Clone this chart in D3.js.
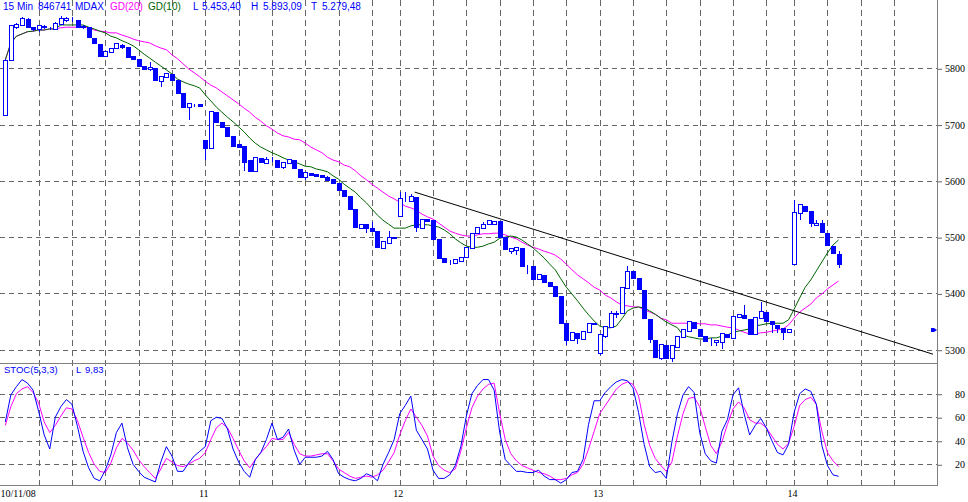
<!DOCTYPE html>
<html><head><meta charset="utf-8">
<script src="https://cdn.jsdelivr.net/npm/d3@7"></script>
<style>body{margin:0;background:#fff}svg{display:block}</style>
</head><body>
<script>
// ---------- DATA ----------
const openP = [
5717,5815,5873,5877,5888,5873,5870,5873,5872,5870,
5879,5886,5888,5886,5875,5873,5854,5843,5822,5829,
5836,5841,5838,5822,5817,5804,5799,5801,5777,5785,
5790,5779,5756,5731,5735,5737,5673,5658,5722,5705,
5696,5680,5666,5662,5637,5618,5641,5632,5637,5637,
5625,5632,5637,5621,5607,5614,5612,5610,5607,5603,
5596,5584,5573,5550,5516,5523,5516,5511,5481,5490,
5500,5538,5566,5564,5571,5516,5532,5530,5497,5463,
5456,5454,5458,5465,5481,5507,5516,5523,5523,5529,
5500,5475,5477,5481,5449,5449,5426,5433,5420,5413,
5395,5347,5317,5330,5319,5331,5347,5294,5324,5340,
5365,5365,5410,5440,5427,5406,5355,5317,5285,5308,
5285,5305,5323,5333,5349,5337,5324,5315,5314,5314,
5328,5321,5358,5362,5355,5328,5356,5367,5351,5344,
5339,5331,5452,5543,5555,5546,5522,5525,5507,5484,
5470];
const highP = [
5817,5877,5881,5891,5889,5873,5877,5877,5873,5882,
5893,5891,5891,5886,5877,5873,5854,5843,5831,5836,
5845,5843,5838,5822,5817,5804,5811,5801,5786,5792,
5790,5779,5756,5738,5737,5737,5673,5724,5722,5705,
5696,5680,5666,5662,5637,5642,5641,5642,5642,5637,
5634,5639,5637,5621,5616,5614,5612,5610,5609,5603,
5596,5584,5573,5550,5523,5523,5527,5511,5493,5511,
5500,5580,5580,5577,5571,5532,5532,5530,5497,5463,
5459,5461,5465,5482,5507,5518,5527,5530,5529,5529,
5500,5481,5482,5481,5450,5449,5435,5433,5420,5413,
5395,5347,5331,5330,5333,5347,5347,5328,5342,5369,
5369,5411,5449,5440,5427,5406,5355,5317,5310,5308,
5308,5324,5337,5351,5349,5337,5324,5321,5317,5330,
5328,5360,5363,5379,5355,5358,5385,5367,5351,5344,
5339,5337,5566,5559,5555,5546,5530,5530,5507,5484,
5475];
const lowP = [
5717,5815,5872,5877,5873,5868,5866,5872,5870,5870,
5879,5884,5884,5873,5872,5856,5845,5822,5822,5829,
5836,5836,5820,5817,5804,5799,5797,5779,5769,5785,
5779,5756,5731,5710,5733,5733,5639,5658,5705,5696,
5680,5662,5660,5619,5618,5618,5634,5632,5635,5625,
5623,5632,5623,5607,5603,5610,5609,5607,5602,5596,
5584,5573,5550,5518,5516,5509,5511,5482,5481,5490,
5498,5538,5564,5564,5511,5516,5529,5497,5463,5456,
5452,5454,5458,5465,5481,5507,5516,5523,5523,5500,
5479,5472,5470,5449,5436,5426,5426,5420,5413,5395,
5347,5310,5317,5312,5319,5331,5346,5292,5323,5340,
5358,5365,5410,5427,5408,5356,5314,5287,5283,5285,
5279.5,5305,5323,5333,5339,5324,5315,5308,5308,5303,
5323,5321,5358,5356,5328,5328,5356,5351,5331,5331,
5319,5331,5452,5532,5546,5520,5522,5509,5486,5472,
5447];
const closeP = [
5815,5877,5879,5889,5873,5870,5877,5875,5872,5881,
5889,5889,5888,5873,5873,5856,5845,5822,5831,5836,
5845,5838,5820,5817,5804,5799,5802,5779,5786,5792,
5779,5756,5731,5738,5735,5733,5658,5724,5705,5696,
5680,5662,5660,5634,5618,5642,5634,5639,5637,5625,
5634,5639,5623,5607,5616,5610,5609,5607,5602,5596,
5584,5573,5550,5518,5523,5516,5511,5482,5493,5500,
5498,5570,5566,5573,5518,5532,5529,5497,5463,5456,
5456,5461,5465,5482,5507,5518,5523,5530,5529,5500,
5479,5481,5482,5449,5449,5426,5435,5420,5413,5395,
5347,5317,5331,5321,5333,5347,5346,5328,5342,5365,
5363,5411,5440,5427,5408,5356,5319,5287,5310,5285,
5308,5324,5337,5351,5339,5324,5315,5315,5317,5330,
5323,5360,5363,5356,5328,5358,5369,5351,5346,5339,
5331,5337,5545,5559,5546,5525,5525,5509,5486,5472,
5453];
const gd20 = [
5815,5845,5857,5861,5865,5866,5868,5868,5870,5870,
5872,5873,5873,5873,5873,5872,5868,5866,5865,5863,
5863,5859,5856,5852,5849,5847,5845,5840,5836,5833,
5824,5817,5808,5799,5792,5785,5777,5770,5765,5758,
5751,5744,5737,5729,5722,5713,5706,5698,5692,5685,
5680,5678,5674,5673,5667,5660,5655,5650,5642,5637,
5634,5628,5625,5618,5609,5602,5594,5587,5580,5573,
5568,5562,5555,5552,5548,5541,5536,5532,5525,5518,
5511,5507,5504,5502,5502,5504,5506,5506,5507,5507,
5504,5500,5497,5491,5486,5482,5479,5475,5472,5468,
5461,5452,5442,5433,5426,5419,5411,5406,5397,5392,
5385,5379,5378,5376,5376,5371,5367,5363,5356,5353,
5347,5347,5347,5347,5347,5346,5346,5344,5344,5342,
5340,5339,5335,5331,5328,5328,5330,5331,5333,5335,
5337,5344,5356,5367,5374,5381,5392,5399,5408,5415,
5422];
const gd10 = [
5815,5845,5857,5861,5865,5866,5868,5868,5870,5870,
5877,5877,5877,5877,5877,5873,5870,5866,5863,5857,
5854,5849,5845,5840,5833,5825,5818,5811,5804,5797,
5790,5781,5776,5772,5769,5765,5753,5742,5731,5722,
5713,5705,5696,5687,5676,5667,5660,5655,5650,5646,
5641,5637,5634,5630,5626,5625,5621,5619,5616,5609,
5603,5594,5587,5580,5570,5561,5550,5539,5530,5523,
5516,5516,5516,5520,5522,5522,5522,5520,5518,5513,
5506,5497,5490,5484,5482,5482,5484,5488,5491,5498,
5500,5502,5500,5495,5488,5481,5472,5463,5452,5442,
5426,5411,5399,5387,5374,5362,5351,5342,5339,5339,
5342,5355,5369,5374,5376,5374,5369,5363,5356,5349,
5344,5339,5326,5323,5321,5319,5319,5321,5321,5324,
5326,5331,5333,5335,5337,5342,5344,5346,5347,5347,
5347,5353,5372,5392,5411,5424,5440,5456,5472,5486,
5495];
const stochK = [
56,79,86,92,89,83,65,45,33,60,
69,75,71,52,31,17,8,6,15,28,
47,55,34,20,14,9,7,5,22,35,
27,14,14,21,27,31,35,57,60,59,
50,33,22,14,9,24,30,41,55,41,
43,50,32,20,26,26,26,27,31,24,
12,9,7,6,8,12,10,6,20,30,
41,63,70,78,49,41,33,15,8,8,
11,19,35,61,80,87,92,92,83,47,
24,19,14,14,13,13,15,10,7,7,
4,7,13,14,24,54,74,74,81,86,
90,92,91,85,64,37,18,13,14,8,
39,63,79,86,81,47,29,23,21,48,
58,79,85,63,45,53,59,51,40,30,
28,37,64,80,84,82,71,36,19,11,
9.83];
const stochD = [
53,69,80,84,86,81,72,56,47,53,
61,68,67,57,43,30,20,14,13,21,
34,42,38,32,24,18,13,8,16,25,
22,19,18,20,23,25,30,41,51,55,
51,42,32,23,17,24,30,35,42,41,
41,47,37,29,27,27,28,29,29,23,
16,13,10,8,9,10,9,11,15,22,
30,45,57,67,60,53,44,27,19,15,
13,16,31,51,68,78,84,88,89,63,
41,29,23,19,17,15,13,12,10,7,
7,8,11,13,20,33,48,63,70,77,
84,88,90,88,78,54,36,25,19,14,
22,44,63,76,77,69,52,36,29,39,
54,67,73,68,58,55,55,51,44,37,
33,38,52,70,75,77,71,48,30,23,
18];
const priceTicks = [5300, 5400, 5500, 5600, 5700, 5800];
const stochTicks = [20, 40, 60, 80];
const gridIdx = [6,12,18,24,30,36,42,48,54,60,66,71,77,83,89,95,101,107,113,119,125,131,137,142,148,154,160];
const dayStartIdx = [0, 36, 71, 107, 142];
const dayLabels = ["10/11/08", "11", "12", "13", "14"];
const trendPts = [[73.7, 5580], [167, 5292]];
const markerPrice = 5335;
const headerItems = [
  {t:"15 Min", c:"#0000ff"}, {t:"846741", c:"#0000ff"}, {t:"MDAX", c:"#0000ff"},
  {t:"GD(20)", c:"#ff00ff"}, {t:"GD(10)", c:"#006400"},
  {t:"L", c:"#0000ff"}, {t:"5.453,40", c:"#0000ff"},
  {t:"H", c:"#0000ff"}, {t:"5.893,09", c:"#0000ff"},
  {t:"T", c:"#0000ff"}, {t:"5.279,48", c:"#0000ff"}];
const headerX = [3, 38, 75, 110, 148, 193, 202, 251, 263, 311, 322];
const stochHeader = [{t:"STOC(5,3,3)", c:"#0000ff"}, {t:"L", c:"#0000ff"}, {t:"9,83", c:"#0000ff"}];
const stochHeaderX = [4, 76, 85];

// ---------- LAYOUT ----------
const W = 968, H = 502;
const plotR = 937, pTop = 0, pBot = 363, sTop = 363, sBot = 485;
const BLUE = "#0000ff", MAG = "#ff00ff", GRN = "#006400", GRID = "#666666", BORDER = "#808080";

const x = d3.scaleLinear().domain([0, 150]).range([5.3, 5.3 + 5.555 * 150]);
const yP = d3.scaleLinear().domain([5300, 5800]).range([349.7, 68.3]);
const yS = d3.scaleLinear().domain([20, 80]).range([464.3, 393.7]);

const svg = d3.select("body").append("svg").attr("width", W).attr("height", H);
const defs = svg.append("defs");
defs.append("clipPath").attr("id", "cp").append("rect").attr("x", 0).attr("y", pTop).attr("width", plotR).attr("height", pBot - pTop);
defs.append("clipPath").attr("id", "cs").append("rect").attr("x", 0).attr("y", sTop).attr("width", plotR).attr("height", sBot - sTop);

const px = v => Math.round(v) + 0.5;

// grid
const grid = svg.append("g").attr("stroke", GRID).attr("stroke-width", 1).attr("fill", "none");
grid.selectAll("line.v").data(gridIdx).join("line").attr("class", "v")
  .attr("x1", d => px(x(d))).attr("x2", d => px(x(d))).attr("y1", pTop).attr("y2", sBot)
  .attr("stroke-dasharray", "6,4");
grid.selectAll("line.hp").data(priceTicks).join("line").attr("class", "hp")
  .attr("x1", 0).attr("x2", plotR).attr("y1", d => px(yP(d))).attr("y2", d => px(yP(d)))
  .attr("stroke-dasharray", "5,4");
grid.selectAll("line.hs").data(stochTicks).join("line").attr("class", "hs")
  .attr("x1", 0).attr("x2", plotR).attr("y1", d => px(yS(d))).attr("y2", d => px(yS(d)))
  .attr("stroke-dasharray", "5,4");

// price panel
const gp = svg.append("g").attr("clip-path", "url(#cp)");
const line = (arr, ys) => d3.line().x((d, i) => x(i)).y(d => ys(d))(arr);
gp.append("path").attr("d", line(gd20, yP)).attr("fill", "none").attr("stroke", MAG).attr("stroke-width", 1);
gp.append("path").attr("d", line(gd10, yP)).attr("fill", "none").attr("stroke", GRN).attr("stroke-width", 1);
gp.append("path").attr("d", d3.line().x(d => x(d[0])).y(d => yP(d[1]))(trendPts))
  .attr("fill", "none").attr("stroke", "#000").attr("stroke-width", 1);

const idx = d3.range(closeP.length);
const cg = gp.append("g");
cg.selectAll("line.wick").data(idx).join("line").attr("class", "wick")
  .attr("x1", i => px(x(i))).attr("x2", i => px(x(i)))
  .attr("y1", i => Math.round(yP(highP[i]))).attr("y2", i => Math.round(yP(lowP[i])) + 1)
  .attr("stroke", BLUE).attr("stroke-width", 1);
cg.selectAll("rect.body").data(idx).join("rect").attr("class", "body")
  .attr("x", i => Math.round(x(i)) - 1.5).attr("width", 4)
  .attr("y", i => px(yP(Math.max(openP[i], closeP[i]))))
  .attr("height", i => Math.round(yP(Math.min(openP[i], closeP[i]))) - Math.round(yP(Math.max(openP[i], closeP[i]))))
  .attr("fill", i => closeP[i] >= openP[i] ? "#ffffff" : BLUE)
  .attr("stroke", BLUE).attr("stroke-width", 1);

// stoch panel
const gs = svg.append("g").attr("clip-path", "url(#cs)");
gs.append("path").attr("d", line(stochD, yS)).attr("fill", "none").attr("stroke", MAG).attr("stroke-width", 1);
gs.append("path").attr("d", line(stochK, yS)).attr("fill", "none").attr("stroke", BLUE).attr("stroke-width", 1);

// borders
const b = svg.append("g").attr("stroke", BORDER).attr("stroke-width", 1);
b.append("line").attr("x1", plotR + 0.5).attr("x2", plotR + 0.5).attr("y1", 0).attr("y2", sBot + 1);
b.append("line").attr("x1", 0).attr("x2", plotR + 1).attr("y1", pBot + 0.5).attr("y2", pBot + 0.5);
b.append("line").attr("x1", 0).attr("x2", plotR + 1).attr("y1", sBot + 0.5).attr("y2", sBot + 0.5);

// right axes
function styleAxis(g) {
  g.select(".domain").remove();
  g.selectAll(".tick line").attr("stroke", GRID).attr("transform", "translate(0,0.5)");
  g.selectAll(".tick text").attr("x", 27).attr("text-anchor", "end").attr("dy", "0.35em")
    .attr("fill", "#000").style("font-family", "'Liberation Serif','Times New Roman',serif").style("font-size", "10px");
}
svg.append("g").attr("transform", `translate(${plotR + 1},0)`)
  .call(d3.axisRight(yP).tickValues(priceTicks).tickSize(4).tickFormat(d3.format("d"))).call(styleAxis);
svg.append("g").attr("transform", `translate(${plotR + 1},0)`)
  .call(d3.axisRight(yS).tickValues(stochTicks).tickSize(4).tickFormat(d3.format("d"))).call(styleAxis);

// bottom axis (days)
const xa = svg.append("g").attr("transform", `translate(0,${sBot})`)
  .call(d3.axisBottom(x).tickValues(dayStartIdx).tickSize(0).tickFormat((d, k) => dayLabels[k]));
xa.select(".domain").remove();
xa.selectAll(".tick text")
  .attr("y", 12).attr("dy", 0)
  .attr("x", (d, k) => k === 0 ? -x(d) : -2)
  .attr("text-anchor", (d, k) => k === 0 ? "start" : "middle")
  .attr("fill", "#000")
  .style("font-family", "'Liberation Serif','Times New Roman',serif").style("font-size", "10px");

// marker
const my = Math.round(yP(markerPrice));
svg.append("path").attr("d", `M${plotR - 6},${my - 2} h3 l3,2 l-3,2 h-3 z`).attr("fill", BLUE);

// headers
svg.append("g").selectAll("text").data(headerItems).join("text")
  .attr("x", (d, k) => headerX[k]).attr("y", 10).text(d => d.t).attr("fill", d => d.c)
  .style("font-family", "'Liberation Sans',Arial,sans-serif").style("font-size", "10px");
svg.append("g").selectAll("text").data(stochHeader).join("text")
  .attr("x", (d, k) => stochHeaderX[k]).attr("y", 373).text(d => d.t).attr("fill", d => d.c)
  .style("font-family", "'Liberation Sans',Arial,sans-serif").style("font-size", "9.5px");
</script>
</body></html>
